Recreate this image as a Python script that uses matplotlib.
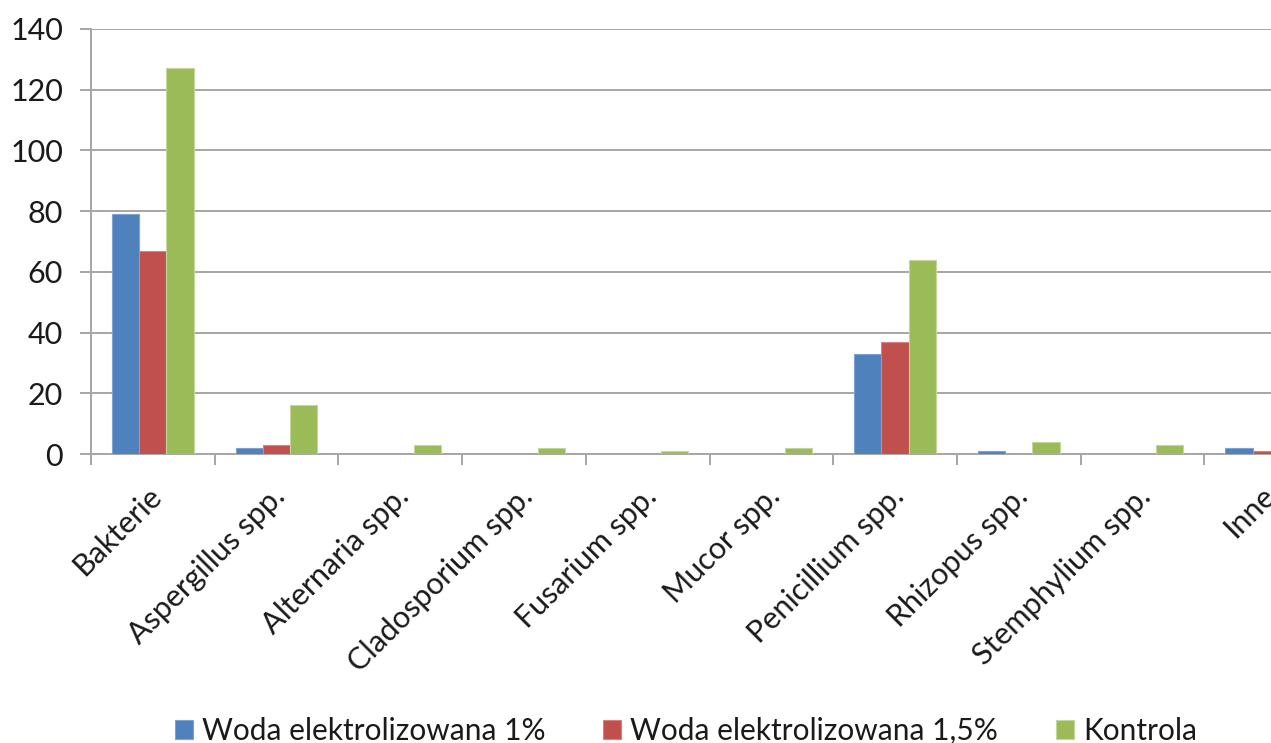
import numpy as np
import matplotlib
matplotlib.use("Agg")
import matplotlib.pyplot as plt

plt.rcParams['font.family'] = ['Lato', 'DejaVu Sans']

categories = ['Bakterie', 'Aspergillus spp.', 'Alternaria spp.', 'Cladosporium spp.',
              'Fusarium spp.', 'Mucor spp.', 'Penicillium spp.', 'Rhizopus spp.',
              'Stemphylium spp.', 'Inne']
woda_1 = [79, 2, 0, 0, 0, 0, 33, 1, 0, 2]
woda_15 = [67, 3, 0, 0, 0, 0, 37, 0, 0, 1]
kontrola = [127, 16, 3, 2, 1, 2, 64, 4, 3, 4]

series = [
    ('Woda elektrolizowana 1%', woda_1, '#4F81BD', '#7FA3D0'),
    ('Woda elektrolizowana 1,5%', woda_15, '#C0504D', '#D68280'),
    ('Kontrola', kontrola, '#9BBB59', '#C3D69B'),
]

fig = plt.figure(figsize=(12.71, 7.43), dpi=100)
# plot area runs past the right edge, so the last group is cut off
ax = fig.add_axes([91 / 1271, 1 - 454 / 743, 1237 / 1271, 425 / 743])

x = np.arange(len(categories))
w = 0.22
for k, (name, vals, col, edge) in enumerate(series):
    ax.bar(x + (k - 1) * w, vals, w, color=col, edgecolor=edge, linewidth=0.8,
           label=name, zorder=3)

ax.set_xlim(-0.5, len(categories) - 0.5)
ax.set_ylim(0, 140)
ax.set_yticks(range(0, 141, 20))
ax.grid(axis='y', color='#A6A6A6', linewidth=1.4, zorder=0)

for s in ['top', 'right']:
    ax.spines[s].set_visible(False)
for s in ['left', 'bottom']:
    ax.spines[s].set_color('#A6A6A6')
    ax.spines[s].set_linewidth(1.4)

ax.set_xticks(np.arange(-0.5, len(categories), 1.0))
ax.set_xticklabels([])
ax.tick_params(axis='x', length=8, width=1.4, color='#A6A6A6')
ax.tick_params(axis='y', length=8, width=1.4, color='#A6A6A6', pad=12,
               labelsize=22, labelcolor='#1a1a1a')

for i, name in enumerate(categories):
    ax.annotate(name, xy=(i, 0), xycoords=('data', 'axes fraction'),
                xytext=(3, -27), textcoords='offset points',
                rotation=45, rotation_mode='anchor', ha='right', va='center',
                fontsize=22, color='#1a1a1a', annotation_clip=False)

fig.legend(loc='center', bbox_to_anchor=(686 / 1271, 1 - 731 / 743), ncol=3,
           frameon=False, fontsize=21.5, handlelength=0.6, handleheight=0.6,
           handletextpad=0.3, columnspacing=1.95, labelcolor='#1a1a1a')

fig.savefig('out.png', dpi=100)
